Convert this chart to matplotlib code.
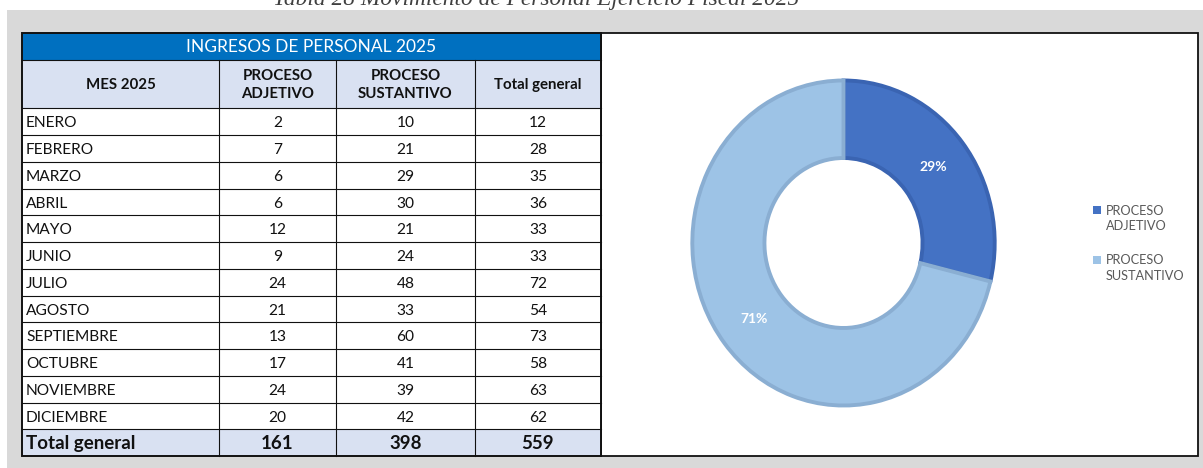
import matplotlib
matplotlib.use('Agg')
import matplotlib.pyplot as plt
from matplotlib.patches import Rectangle

# ---------------- data ----------------
caption = "Tabla 28 Movimiento de Personal Ejercicio Fiscal 2025"
table_title = "INGRESOS DE PERSONAL 2025"
header = ["MES 2025", "PROCESO\nADJETIVO", "PROCESO\nSUSTANTIVO", "Total general"]
months = ["ENERO", "FEBRERO", "MARZO", "ABRIL", "MAYO", "JUNIO", "JULIO",
          "AGOSTO", "SEPTIEMBRE", "OCTUBRE", "NOVIEMBRE", "DICIEMBRE"]
adjetivo = [2, 7, 6, 6, 12, 9, 24, 21, 13, 17, 24, 20]
sustantivo = [10, 21, 29, 30, 21, 24, 48, 33, 60, 41, 39, 42]
totals = [12, 28, 35, 36, 33, 33, 72, 54, 73, 58, 63, 62]
total_row = ["Total general", 161, 398, 559]
series = ["PROCESO\nADJETIVO", "PROCESO\nSUSTANTIVO"]
series_totals = [161, 398]

# ---------------- styles ----------------
FONT = ["Lato", "DejaVu Sans"]
face_colors = ["#4472C4", "#9DC3E6"]
edge_colors = ["#3A64B2", "#8AAED2"]
W, H = 1203, 468

fig = plt.figure(figsize=(W / 100, H / 100), dpi=100)
fig.patch.set_facecolor("white")
ax0 = fig.add_axes([0, 0, 1, 1])
ax0.set_xlim(0, W)
ax0.set_ylim(H, 0)
ax0.axis("off")

# caption (cut off at top, as in reference)
ax0.text(536, 5, caption, ha="center", va="baseline", fontsize=16.8,
         style="italic", family=["Liberation Serif", "DejaVu Serif"], color="#404040")

# gray background panel
ax0.add_patch(Rectangle((7, 10), W - 7, H - 10, facecolor="#D9D9D9", edgecolor="none", zorder=0))

# chart box
ax0.add_patch(Rectangle((601, 33), 1198 - 601, 456 - 33, facecolor="white",
                        edgecolor="#111111", linewidth=1.3, zorder=1))

# ---------------- table ----------------
col_x = [22, 219, 336, 475, 601]
y_top, y_title, y_head = 33, 59.5, 108.3
row_h = (429.3 - y_head) / len(months)
y_total_top = y_head + row_h * len(months)
y_bottom = 456

ax0.add_patch(Rectangle((col_x[0], y_top), col_x[-1] - col_x[0], y_title - y_top,
                        facecolor="#0070C0", edgecolor="none", zorder=1))
ax0.add_patch(Rectangle((col_x[0], y_title), col_x[-1] - col_x[0], y_head - y_title,
                        facecolor="#D9E1F2", edgecolor="none", zorder=1))
ax0.add_patch(Rectangle((col_x[0], y_head), col_x[-1] - col_x[0], y_total_top - y_head,
                        facecolor="white", edgecolor="none", zorder=1))
ax0.add_patch(Rectangle((col_x[0], y_total_top), col_x[-1] - col_x[0], y_bottom - y_total_top,
                        facecolor="#D9E1F2", edgecolor="none", zorder=1))

lw_in = 0.8
h_lines = [y_title, y_head] + [y_head + row_h * (i + 1) for i in range(len(months))]
for yy in h_lines:
    ax0.plot([col_x[0], col_x[-1]], [yy, yy], color="#111111", lw=lw_in, zorder=2)
for xx in col_x[1:-1]:
    ax0.plot([xx, xx], [y_title, y_bottom], color="#111111", lw=lw_in, zorder=2)
ax0.add_patch(Rectangle((col_x[0], y_top), col_x[-1] - col_x[0], y_bottom - y_top,
                        facecolor="none", edgecolor="#111111", linewidth=1.4, zorder=3))

def centers(i):
    return (col_x[i] + col_x[i + 1]) / 2

# title
ax0.text((col_x[0] + col_x[-1]) / 2, (y_top + y_title) / 2 + 6, table_title,
         ha="center", va="baseline", fontsize=12.5, color="white", family=FONT, zorder=4)

# header
for i, h in enumerate(header):
    ax0.text(centers(i), (y_title + y_head) / 2 + 1, h, ha="center", va="center",
             fontsize=10.8, fontweight="bold", color="#111111", family=FONT,
             linespacing=1.3, zorder=4)

# data rows
for r, m in enumerate(months):
    yc = y_head + row_h * (r + 0.5) + 5.6
    ax0.text(col_x[0] + 4, yc, m, ha="left", va="baseline", fontsize=11.2,
             color="#111111", family=FONT, zorder=4)
    for c, v in enumerate([adjetivo[r], sustantivo[r], totals[r]]):
        ax0.text(centers(c + 1), yc, str(v), ha="center", va="baseline", fontsize=11.2,
                 color="#111111", family=FONT, zorder=4)

# total row
yc = (y_total_top + y_bottom) / 2 + 6.5
ax0.text(col_x[0] + 4, yc, total_row[0], ha="left", va="baseline", fontsize=13.5,
         fontweight="bold", color="#111111", family=FONT, zorder=4)
for c, v in enumerate(total_row[1:]):
    ax0.text(centers(c + 1), yc, str(v), ha="center", va="baseline", fontsize=13.5,
             fontweight="bold", color="#111111", family=FONT, zorder=4)

# ---------------- donut ----------------
ax1 = fig.add_axes([690 / W, 60 / H, 307 / W, 330 / H])
wedges, texts, autotexts = ax1.pie(
    series_totals, colors=face_colors, startangle=90, counterclock=False,
    radius=0.985, autopct="%1.0f%%", pctdistance=0.755,
    wedgeprops=dict(width=0.47, linewidth=2.8),
    textprops=dict(color="white", fontsize=10, fontweight="bold", family=FONT))
for w, ec in zip(wedges, edge_colors):
    w.set_edgecolor(ec)
ax1.set_aspect("auto")
ax1.set_xlim(-1, 1)
ax1.set_ylim(-1, 1)
ax1.axis("off")

# legend (manual, square aligned with first line)
for i, lab in enumerate(series):
    y0 = 206 + i * 49.5
    ax0.add_patch(Rectangle((1093, y0), 8, 8, facecolor=face_colors[i],
                            edgecolor="none", zorder=4))
    ax0.text(1106, y0 + 12.5, lab, ha="left", va="center", fontsize=9.2,
             color="#595959", family=FONT, linespacing=1.3, zorder=4)

fig.savefig("out.png", dpi=100, facecolor=fig.get_facecolor())
